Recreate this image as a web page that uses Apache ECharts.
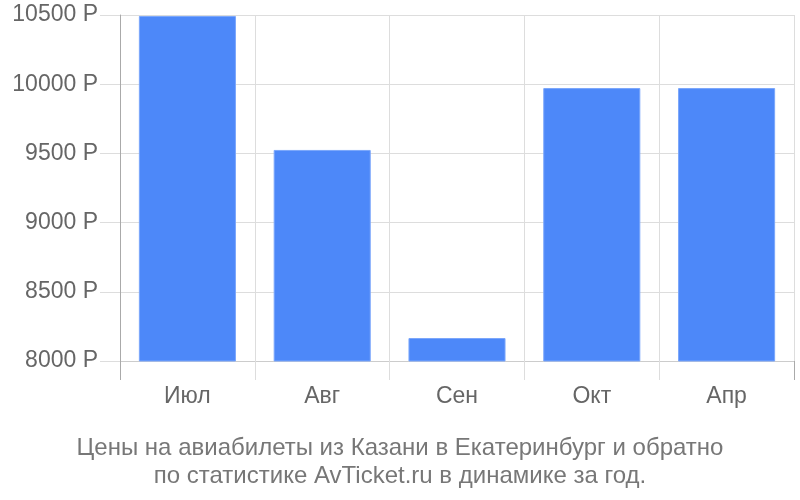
<!DOCTYPE html>
<html>
<head>
<meta charset="utf-8">
<script src="https://cdn.jsdelivr.net/npm/echarts@6/dist/echarts.min.js"></script>
<style>html,body{margin:0;padding:0;background:#fff}#c{width:800px;height:500px}</style>
</head>
<body>
<div id="c"></div>
<script>
const categories = ['Июл', 'Авг', 'Сен', 'Окт', 'Апр'];
const prices = [10493, 9525, 8166, 9972, 9972];
const yTicks = { min: 8000, max: 10500, step: 500 };
const currency = ' Р';
const titleLines = ['Цены на авиабилеты из Казани в Екатеринбург и обратно', 'по статистике AvTicket.ru в динамике за год.'];

const font = '"Liberation Sans", Arial, sans-serif';
const chart = echarts.init(document.getElementById('c'), null, { renderer: 'canvas' });
chart.setOption({
  animation: false,
  backgroundColor: '#fff',
  title: {
    text: titleLines.join('\n'),
    left: 'center',
    top: 429,
    textStyle: { fontFamily: font, fontSize: 24, fontWeight: 'normal', color: '#777', lineHeight: 28 }
  },
  grid: { left: 120, right: 6, top: 15, bottom: 139, containLabel: false },
  xAxis: [{
    type: 'category',
    data: categories,
    boundaryGap: true,
    axisLine: { show: true, lineStyle: { color: '#ccc', width: 1 } },
    axisTick: { show: true, length: 19, lineStyle: { color: '#ddd' } },
    splitLine: { show: true, lineStyle: { color: '#ddd' } },
    axisLabel: { fontFamily: font, fontSize: 23, color: '#666', margin: 24 }
  }, {
    type: 'category',
    data: categories,
    position: 'bottom',
    boundaryGap: true,
    axisLine: { show: false },
    axisTick: { show: true, length: 19, interval: function (i) { return i === 0; }, lineStyle: { color: '#aaa' } },
    splitLine: { show: false },
    axisLabel: { show: false }
  }],
  yAxis: {
    type: 'value',
    min: yTicks.min,
    max: yTicks.max,
    interval: yTicks.step,
    axisLine: { show: true, lineStyle: { color: '#aaa' } },
    axisTick: { show: true, length: 20, lineStyle: { color: '#ddd' } },
    splitLine: { show: true, lineStyle: { color: '#ddd' } },
    axisLabel: { fontFamily: font, fontSize: 23, color: '#666', margin: 22, formatter: v => v + currency }
  },
  series: [{
    type: 'bar',
    data: prices,
    barWidth: '72%',
    itemStyle: { color: '#4d88f9', borderColor: '#7aa6fb', borderWidth: 1 }
  }]
});
</script>
</body>
</html>
